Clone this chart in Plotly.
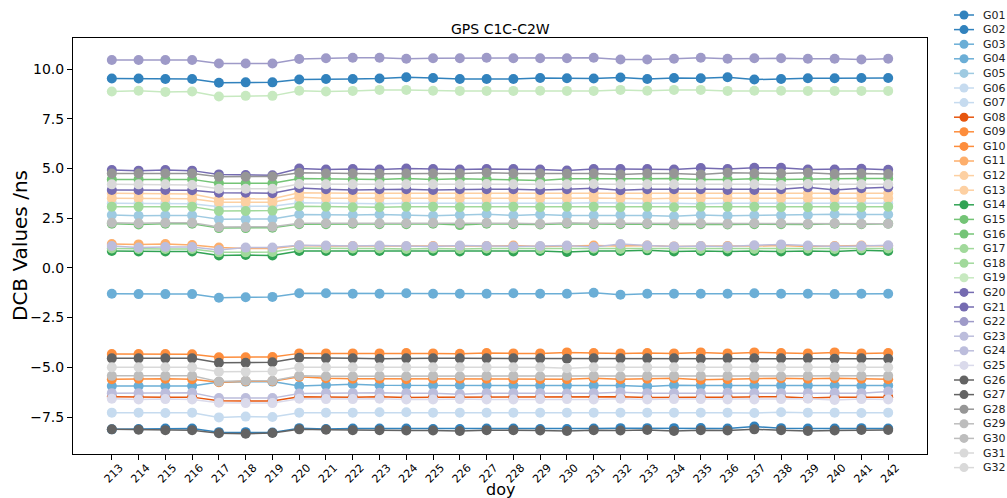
import plotly.graph_objects as go

# Day of year (x axis)
doy = list(range(213, 243))

# Differential code bias C1C-C2W per satellite, ns
G01 = [9.52, 9.52, 9.50, 9.50, 9.31, 9.33, 9.33, 9.47, 9.50, 9.50, 9.52, 9.59, 9.55, 9.50, 9.50, 9.50, 9.55, 9.54, 9.52, 9.57, 9.50, 9.55, 9.54, 9.59, 9.47, 9.50, 9.54, 9.54, 9.55, 9.55]
G02 = [-8.12, -8.10, -8.08, -8.08, -8.26, -8.26, -8.28, -8.06, -8.10, -8.08, -8.08, -8.08, -8.10, -8.10, -8.08, -8.08, -8.10, -8.10, -8.08, -8.06, -8.06, -8.06, -8.05, -8.08, -7.98, -8.06, -8.08, -8.08, -8.06, -8.08]
G03 = [-1.30, -1.32, -1.32, -1.32, -1.50, -1.48, -1.46, -1.28, -1.28, -1.30, -1.30, -1.28, -1.30, -1.30, -1.30, -1.28, -1.30, -1.30, -1.25, -1.35, -1.30, -1.30, -1.30, -1.30, -1.28, -1.30, -1.30, -1.32, -1.30, -1.30]
G04 = [-5.94, -5.94, -5.94, -5.94, -5.74, -5.72, -5.72, -5.94, -5.90, -5.85, -5.90, -5.90, -5.90, -5.90, -5.90, -5.92, -5.92, -5.92, -5.92, -5.92, -5.96, -5.90, -5.92, -5.92, -5.92, -5.92, -5.92, -5.92, -5.94, -5.92]
G05 = [2.66, 2.62, 2.64, 2.64, 2.44, 2.44, 2.46, 2.68, 2.66, 2.66, 2.68, 2.64, 2.62, 2.66, 2.70, 2.64, 2.68, 2.64, 2.64, 2.66, 2.64, 2.60, 2.66, 2.62, 2.64, 2.64, 2.66, 2.70, 2.68, 2.68]
G06 = [-7.28, -7.28, -7.30, -7.28, -7.52, -7.48, -7.50, -7.28, -7.28, -7.28, -7.26, -7.26, -7.28, -7.28, -7.28, -7.28, -7.28, -7.28, -7.28, -7.28, -7.28, -7.28, -7.28, -7.28, -7.30, -7.26, -7.28, -7.28, -7.30, -7.28]
G07 = [3.25, 3.25, 3.25, 3.22, 3.08, 3.08, 3.10, 3.28, 3.25, 3.25, 3.22, 3.25, 3.25, 3.25, 3.25, 3.22, 3.25, 3.25, 3.28, 3.25, 3.25, 3.25, 3.22, 3.25, 3.25, 3.25, 3.25, 3.25, 3.25, 3.25]
G08 = [-6.48, -6.50, -6.50, -6.50, -6.68, -6.70, -6.70, -6.48, -6.50, -6.50, -6.48, -6.52, -6.50, -6.50, -6.48, -6.50, -6.50, -6.50, -6.50, -6.48, -6.52, -6.50, -6.50, -6.50, -6.50, -6.48, -6.55, -6.50, -6.50, -6.50]
G09 = [-4.33, -4.33, -4.33, -4.35, -4.50, -4.50, -4.48, -4.30, -4.30, -4.30, -4.30, -4.28, -4.30, -4.32, -4.28, -4.30, -4.30, -4.25, -4.28, -4.30, -4.28, -4.30, -4.25, -4.30, -4.25, -4.28, -4.30, -4.25, -4.30, -4.28]
G10 = [-5.60, -5.57, -5.57, -5.60, -5.75, -5.70, -5.70, -5.48, -5.55, -5.57, -5.57, -5.60, -5.57, -5.57, -5.57, -5.60, -5.60, -5.60, -5.55, -5.60, -5.57, -5.55, -5.62, -5.60, -5.57, -5.55, -5.57, -5.55, -5.57, -5.60]
G11 = [1.20, 1.18, 1.20, 1.15, 1.02, 0.98, 0.98, 1.12, 1.10, 1.10, 1.10, 1.08, 1.10, 1.10, 1.10, 1.12, 1.08, 1.10, 1.12, 1.10, 1.12, 1.08, 1.10, 1.10, 1.10, 1.12, 1.08, 1.10, 1.12, 1.10]
G12 = [3.75, 3.75, 3.75, 3.72, 3.45, 3.45, 3.48, 3.78, 3.75, 3.75, 3.75, 3.75, 3.72, 3.75, 3.75, 3.75, 3.72, 3.75, 3.75, 3.72, 3.75, 3.75, 3.72, 3.75, 3.75, 3.72, 3.75, 3.75, 3.72, 3.75]
G13 = [3.50, 3.50, 3.50, 3.48, 3.30, 3.30, 3.30, 3.55, 3.50, 3.50, 3.50, 3.50, 3.50, 3.50, 3.48, 3.50, 3.50, 3.50, 3.52, 3.50, 3.48, 3.50, 3.50, 3.50, 3.50, 3.50, 3.50, 3.50, 3.50, 3.50]
G14 = [0.85, 0.82, 0.82, 0.82, 0.62, 0.65, 0.62, 0.85, 0.85, 0.85, 0.85, 0.82, 0.85, 0.82, 0.85, 0.82, 0.85, 0.80, 0.85, 0.85, 0.88, 0.82, 0.85, 0.82, 0.85, 0.82, 0.85, 0.82, 0.88, 0.85]
G15 = [4.45, 4.45, 4.45, 4.45, 4.25, 4.25, 4.25, 4.50, 4.48, 4.45, 4.45, 4.50, 4.45, 4.48, 4.45, 4.45, 4.40, 4.48, 4.48, 4.45, 4.48, 4.50, 4.45, 4.45, 4.48, 4.45, 4.45, 4.48, 4.50, 4.50]
G16 = [2.22, 2.18, 2.22, 2.22, 2.00, 2.00, 2.02, 2.20, 2.20, 2.22, 2.20, 2.20, 2.22, 2.15, 2.22, 2.20, 2.18, 2.22, 2.20, 2.20, 2.20, 2.18, 2.20, 2.18, 2.20, 2.20, 2.18, 2.22, 2.20, 2.22]
G17 = [3.08, 3.08, 3.08, 3.08, 2.86, 2.86, 2.88, 3.10, 3.08, 3.05, 3.05, 3.08, 3.08, 3.05, 3.08, 3.08, 3.05, 3.08, 3.08, 3.05, 3.08, 3.05, 3.08, 3.08, 3.08, 3.05, 3.05, 3.08, 3.05, 3.08]
G18 = [0.98, 0.95, 0.95, 0.95, 0.78, 0.78, 0.80, 1.00, 0.98, 0.98, 0.98, 0.95, 0.98, 0.95, 0.98, 0.98, 0.95, 0.98, 0.98, 0.95, 0.98, 0.98, 0.95, 0.98, 0.95, 0.98, 0.98, 0.95, 0.98, 0.98]
G19 = [8.87, 8.91, 8.85, 8.87, 8.62, 8.65, 8.65, 8.91, 8.87, 8.90, 8.95, 8.95, 8.91, 8.90, 8.90, 8.90, 8.91, 8.90, 8.90, 8.95, 8.91, 8.95, 8.95, 8.90, 8.91, 8.91, 8.90, 8.90, 8.90, 8.90]
G20 = [4.92, 4.89, 4.92, 4.89, 4.70, 4.67, 4.66, 5.00, 4.95, 4.97, 4.95, 5.00, 4.97, 4.95, 4.97, 4.97, 4.95, 4.90, 4.97, 4.97, 4.97, 4.95, 5.02, 4.97, 5.03, 5.03, 4.95, 4.95, 4.98, 4.93]
G21 = [3.92, 3.92, 3.92, 3.90, 3.78, 3.78, 3.75, 4.02, 3.95, 3.92, 3.95, 3.95, 3.92, 3.95, 3.95, 3.95, 3.92, 3.95, 4.00, 3.90, 3.95, 3.95, 3.95, 3.92, 3.92, 3.95, 4.05, 3.92, 4.00, 4.05]
G22 = [10.45, 10.45, 10.45, 10.45, 10.28, 10.28, 10.28, 10.50, 10.54, 10.57, 10.57, 10.52, 10.54, 10.54, 10.57, 10.54, 10.54, 10.54, 10.57, 10.48, 10.48, 10.52, 10.57, 10.52, 10.54, 10.54, 10.52, 10.52, 10.48, 10.52]
G23 = [1.10, 1.02, 1.05, 1.05, 0.90, 1.02, 1.02, 1.14, 1.12, 1.10, 1.12, 1.10, 1.08, 1.12, 1.10, 1.08, 1.10, 1.12, 1.05, 1.20, 1.12, 1.08, 1.10, 1.08, 1.14, 1.18, 1.12, 1.08, 1.10, 1.14]
G24 = [-6.30, -6.30, -6.30, -6.28, -6.55, -6.55, -6.55, -6.32, -6.30, -6.30, -6.28, -6.30, -6.30, -6.35, -6.30, -6.30, -6.30, -6.32, -6.30, -6.25, -6.30, -6.30, -6.30, -6.28, -6.30, -6.30, -6.30, -6.28, -6.30, -6.22]
G25 = [-6.58, -6.62, -6.60, -6.62, -6.78, -6.80, -6.80, -6.58, -6.60, -6.60, -6.58, -6.62, -6.62, -6.60, -6.62, -6.62, -6.60, -6.60, -6.62, -6.58, -6.62, -6.60, -6.60, -6.62, -6.62, -6.60, -6.58, -6.64, -6.60, -6.62]
G26 = [-4.55, -4.55, -4.55, -4.55, -4.77, -4.77, -4.75, -4.52, -4.55, -4.55, -4.57, -4.55, -4.55, -4.55, -4.55, -4.55, -4.55, -4.57, -4.55, -4.55, -4.55, -4.55, -4.57, -4.55, -4.55, -4.55, -4.55, -4.57, -4.55, -4.57]
G27 = [-8.12, -8.14, -8.16, -8.16, -8.32, -8.34, -8.30, -8.12, -8.14, -8.16, -8.16, -8.18, -8.18, -8.20, -8.16, -8.16, -8.18, -8.20, -8.16, -8.18, -8.15, -8.20, -8.16, -8.18, -8.12, -8.16, -8.20, -8.18, -8.15, -8.15]
G28 = [4.75, 4.75, 4.75, 4.75, 4.58, 4.58, 4.60, 4.78, 4.75, 4.75, 4.73, 4.75, 4.75, 4.75, 4.78, 4.75, 4.75, 4.73, 4.75, 4.70, 4.75, 4.75, 4.70, 4.78, 4.75, 4.75, 4.78, 4.72, 4.75, 4.72]
G29 = [2.27, 2.24, 2.27, 2.27, 2.05, 2.05, 2.07, 2.24, 2.24, 2.27, 2.24, 2.24, 2.27, 2.24, 2.27, 2.24, 2.22, 2.27, 2.24, 2.24, 2.24, 2.22, 2.24, 2.22, 2.24, 2.24, 2.22, 2.24, 2.22, 2.22]
G30 = [-5.43, -5.43, -5.43, -5.43, -5.72, -5.68, -5.68, -5.43, -5.45, -5.45, -5.43, -5.45, -5.43, -5.45, -5.43, -5.43, -5.45, -5.43, -5.43, -5.45, -5.43, -5.43, -5.43, -5.43, -5.43, -5.45, -5.43, -5.43, -5.43, -5.43]
G31 = [4.20, 4.20, 4.20, 4.17, 3.98, 3.98, 3.98, 4.22, 4.20, 4.20, 4.20, 4.20, 4.20, 4.20, 4.22, 4.20, 4.20, 4.20, 4.22, 4.20, 4.20, 4.20, 4.20, 4.20, 4.20, 4.17, 4.22, 4.20, 4.20, 4.20]
G32 = [-5.00, -5.00, -5.00, -5.00, -5.22, -5.22, -5.20, -5.00, -5.00, -5.00, -5.00, -5.00, -5.00, -5.00, -5.00, -5.00, -5.00, -5.05, -5.00, -5.00, -5.00, -5.00, -5.00, -5.00, -5.00, -5.00, -5.00, -5.00, -5.00, -5.00]

sat_names = [f"G{i:02d}" for i in range(1, 33)]
sat_values = [G01, G02, G03, G04, G05, G06, G07, G08, G09, G10, G11, G12, G13, G14, G15, G16,
              G17, G18, G19, G20, G21, G22, G23, G24, G25, G26, G27, G28, G29, G30, G31, G32]

# tab20c palette sampled at 32 evenly spaced points
tab20c = ["#3182bd", "#6baed6", "#9ecae1", "#c6dbef", "#e6550d", "#fd8d3c", "#fdae6b", "#fdd0a2",
          "#31a354", "#74c476", "#a1d99b", "#c7e9c0", "#756bb1", "#9e9ac8", "#bcbddc", "#dadaeb",
          "#636363", "#969696", "#bdbdbd", "#d9d9d9"]
colors = [tab20c[min(int(i / 31 * 20), 19)] for i in range(32)]

W, H = 1007, 498
ML, MR, MT, MB = 73, 80, 38, 44
PW, PH = W - ML - MR, H - MT - MB
FONT = "DejaVu Sans"


def px_x(p):
    return (p - ML) / PW


def px_y(p):
    return (H - MB - p) / PH


fig = go.Figure()
for name, vals, col in zip(sat_names, sat_values, colors):
    fig.add_trace(go.Scatter(
        x=doy, y=vals, name=name, mode="lines+markers",
        line=dict(color=col, width=1.5),
        marker=dict(color=col, size=10, line=dict(width=0)),
        showlegend=False,
    ))

# Legend column on the right
LEG_MARK_X = 964
shapes = []
annotations = []
for i, (name, col) in enumerate(zip(sat_names, colors)):
    cy = px_y(15 + 14.6 * i)
    shapes.append(dict(type="line", xref="paper", yref="paper",
                       x0=px_x(LEG_MARK_X - 10), x1=px_x(LEG_MARK_X + 10), y0=cy, y1=cy,
                       line=dict(color=col, width=1.5)))
    shapes.append(dict(type="circle", xref="paper", yref="paper",
                       xsizemode="pixel", ysizemode="pixel",
                       xanchor=px_x(LEG_MARK_X), yanchor=cy,
                       x0=-4.5, x1=4.5, y0=-4.5, y1=4.5,
                       fillcolor=col, line=dict(width=0)))
    annotations.append(dict(text=name, xref="paper", yref="paper",
                            x=px_x(LEG_MARK_X + 17), y=cy, xanchor="left", yanchor="middle",
                            showarrow=False, font=dict(family=FONT, size=11, color="#222")))

annotations.append(dict(text="DCB Values /ns", xref="paper", yref="paper",
                        x=px_x(20), y=0.5, textangle=-90, showarrow=False,
                        xanchor="center", yanchor="middle",
                        font=dict(family=FONT, size=20, color="black")))
annotations.append(dict(text="doy", xref="paper", yref="paper",
                        x=0.5, y=px_y(490), showarrow=False,
                        xanchor="center", yanchor="middle",
                        font=dict(family=FONT, size=16, color="black")))
annotations.append(dict(text="GPS C1C-C2W", xref="paper", yref="paper",
                        x=0.5, y=px_y(29), showarrow=False,
                        xanchor="center", yanchor="middle",
                        font=dict(family=FONT, size=14, color="black")))

fig.update_layout(
    width=W, height=H,
    margin=dict(l=ML, r=MR, t=MT, b=MB),
    paper_bgcolor="white", plot_bgcolor="white",
    shapes=shapes, annotations=annotations,
    showlegend=False,
    font=dict(family=FONT, color="black"),
)
fig.update_xaxes(
    range=[211.55, 243.45], tickvals=doy, ticktext=[str(d) for d in doy],
    tickangle=-45, ticklabelshift=8, ticklabelstandoff=-3, tickfont=dict(size=11),
    ticks="outside", ticklen=5, tickcolor="black",
    showline=True, linecolor="black", linewidth=1, mirror=True,
    showgrid=False, zeroline=False, automargin=False,
)
fig.update_yaxes(
    range=[-9.36, 11.56], tickvals=[-7.5, -5.0, -2.5, 0.0, 2.5, 5.0, 7.5, 10.0],
    tickformat=".1f", tickfont=dict(size=14),
    ticks="outside", ticklen=5, tickcolor="black",
    showline=True, linecolor="black", linewidth=1, mirror=True,
    showgrid=False, zeroline=False, automargin=False,
)

fig.write_html("out.html")
